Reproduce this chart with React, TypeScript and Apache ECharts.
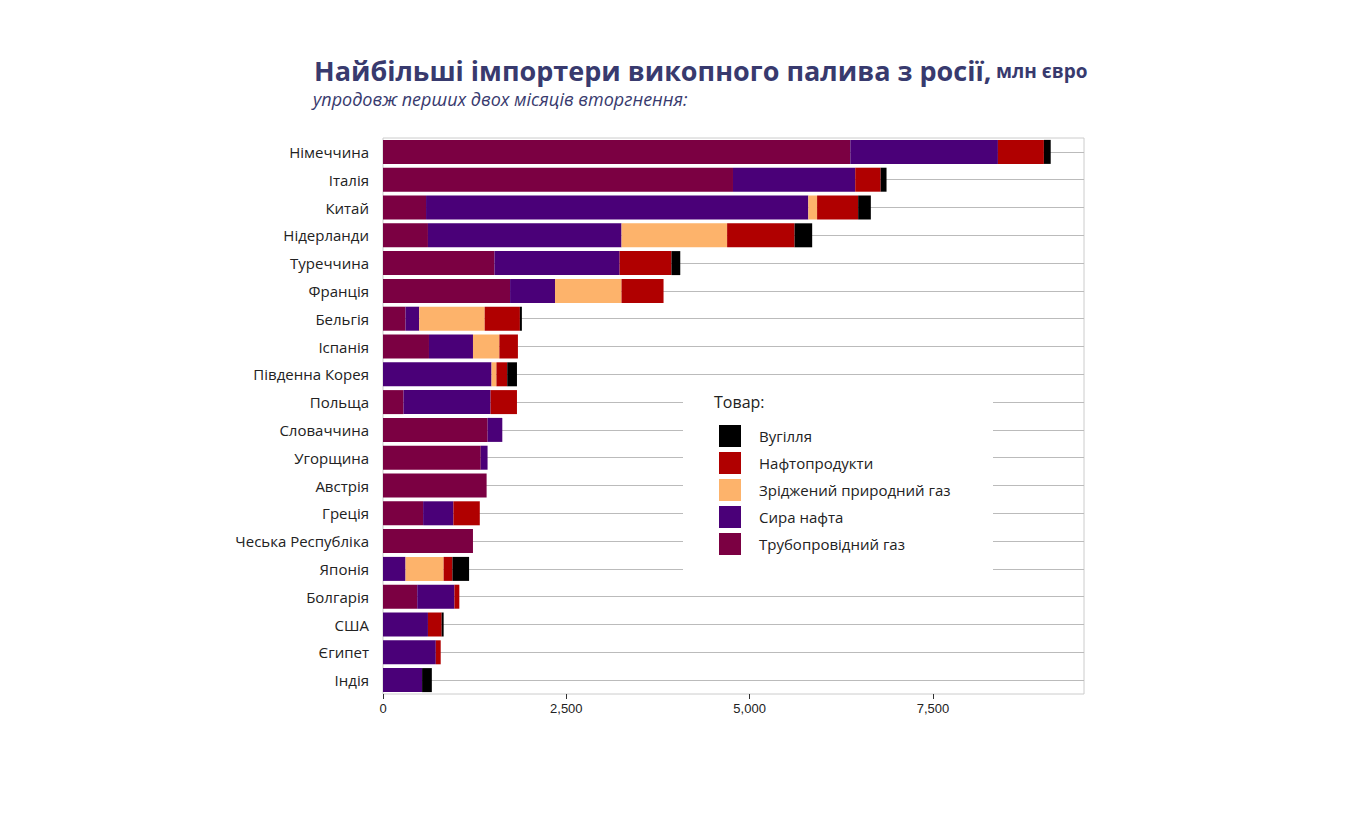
import React, { useEffect, useRef } from "react";
import * as echarts from "echarts";

const countries = [
  "Німеччина", "Італія", "Китай", "Нідерланди", "Туреччина", "Франція", "Бельгія",
  "Іспанія", "Південна Корея", "Польща", "Словаччина", "Угорщина", "Австрія", "Греція",
  "Чеська Республіка", "Японія", "Болгарія", "США", "Єгипет", "Індія",
];
const pipelineGas = [6373, 4773, 587, 613, 1520, 1733, 307, 627, 0, 280, 1427, 1333, 1413, 547, 1227, 0, 467, 0, 0, 0];
const crudeOil = [2013, 1667, 5213, 2640, 1707, 613, 187, 600, 1480, 1187, 200, 93, 0, 413, 0, 307, 507, 613, 720, 533];
const lng = [0, 0, 120, 1440, 0, 907, 893, 360, 67, 0, 0, 0, 0, 0, 0, 520, 0, 0, 0, 0];
const oilProducts = [627, 347, 560, 920, 707, 573, 480, 253, 147, 360, 0, 0, 0, 360, 0, 120, 67, 187, 67, 0];
const coal = [93, 80, 173, 240, 120, 0, 27, 0, 133, 0, 0, 0, 0, 0, 0, 227, 0, 27, 0, 133];

const seriesDefs = [
  { name: "Трубопровідний газ", data: pipelineGas, color: "#7b0042" },
  { name: "Сира нафта", data: crudeOil, color: "#4a0078" },
  { name: "Зріджений природний газ", data: lng, color: "#fdb36b" },
  { name: "Нафтопродукти", data: oilProducts, color: "#b00000" },
  { name: "Вугілля", data: coal, color: "#000000" },
];

const App = () => {
  const chartRef = useRef(null);

  useEffect(() => {
    const chart = echarts.init(chartRef.current, null, { renderer: "svg" });
    const font = "'Open Sans', 'Noto Sans', sans-serif";

    chart.setOption({
      animation: false,
      textStyle: { fontFamily: font },
      title: [
        {
          left: 301, top: 44,
          text: "{a|Найбільші імпортери викопного палива з росії,} {b|млн євро}",
          textStyle: {
            rich: {
              a: { fontSize: 27, fontWeight: "bold", color: "#383a6e", fontFamily: font },
              b: { fontSize: 19, fontWeight: "bold", color: "#383a6e", fontFamily: font },
            },
          },
        },
        {
          left: 300, top: 77,
          text: "упродовж перших двох місяців вторгнення:",
          textStyle: { fontSize: 18, fontStyle: "italic", fontWeight: "normal", color: "#383a6e", fontFamily: font },
        },
      ],
      grid: { left: 375, right: 264, top: 130, bottom: 134, show: true, borderColor: "#cccccc", backgroundColor: "#fff" },
      xAxis: {
        type: "value", min: 0, max: 9560, interval: 2500,
        axisLine: { show: false },
        axisTick: { show: true, lineStyle: { color: "#333" } },
        splitLine: { show: false },
        axisLabel: { color: "#222", fontSize: 13, fontFamily: "Liberation Sans, Arial", showMaxLabel: false },
      },
      yAxis: {
        type: "category", data: countries, inverse: true,
        axisLine: { show: false }, axisTick: { show: false },
        axisLabel: { color: "#222", fontSize: 15, margin: 14 },
      },
      legend: {
        orient: "vertical", left: 706, top: 412,
        itemWidth: 22, itemHeight: 22, itemGap: 5, icon: "rect",
        data: ["Вугілля", "Нафтопродукти", "Зріджений природний газ", "Сира нафта", "Трубопровідний газ"],
        textStyle: { fontSize: 15, color: "#222", padding: [0, 0, 0, 13] },
        z: 20,
      },
      graphic: [
        { type: "rect", left: 675, top: 370, z: 10, shape: { width: 310, height: 202 }, style: { fill: "#fff" } },
        { type: "text", left: 706, top: 386, z: 11, style: { text: "Товар:", fontSize: 16, fill: "#222", fontFamily: font } },
      ],
      series: [
        {
          type: "line", data: [], silent: true, z: 1,
          markLine: {
            silent: true, symbol: "none", z: 1,
            label: { show: false },
            lineStyle: { color: "#bbbbbb", type: "solid", width: 1 },
            data: countries.map((c) => ({ yAxis: c })),
          },
        },
        ...seriesDefs.map((s) => ({
          name: s.name, type: "bar", stack: "total", z: 3,
          barWidth: 24,
          data: s.data,
          itemStyle: { color: s.color },
        })),
      ],
    });

    return () => chart.dispose();
  }, []);

  return <div ref={chartRef} style={{ width: 1340, height: 820 }} />;
};

export default App;
